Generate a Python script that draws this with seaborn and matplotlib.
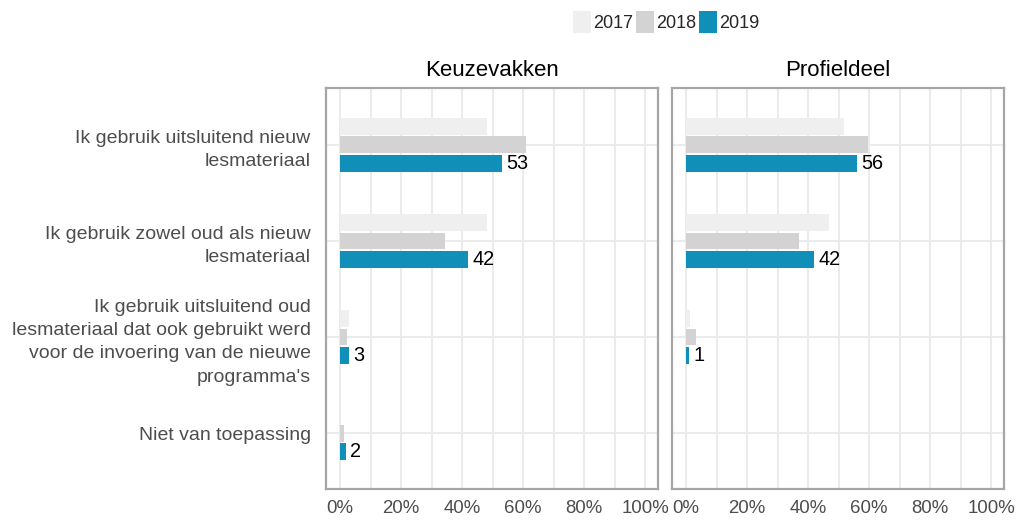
import matplotlib
matplotlib.use("Agg")
import matplotlib.pyplot as plt
import seaborn as sns
import pandas as pd
import numpy as np
from matplotlib.patches import Patch

sns.set_theme(style="white")
plt.rcParams['font.family'] = ['Liberation Sans', 'DejaVu Sans']

categories = [
    "Ik gebruik uitsluitend nieuw\nlesmateriaal",
    "Ik gebruik zowel oud als nieuw\nlesmateriaal",
    "Ik gebruik uitsluitend oud\nlesmateriaal dat ook gebruikt werd\nvoor de invoering van de nieuwe\nprogramma's",
    "Niet van toepassing",
]
years = ["2017", "2018", "2019"]
panels = ["Keuzevakken", "Profieldeel"]

keuze_2017 = [48, 48, 3, 0]
keuze_2018 = [61, 34.5, 2.2, 1.4]
keuze_2019 = [53, 42, 3, 2]

profiel_2017 = [51.7, 46.9, 1.3, 0]
profiel_2018 = [59.7, 37, 3.3, 0]
profiel_2019 = [56, 42, 1, 0]

colors = {"2017": "#efefef", "2018": "#d3d3d3", "2019": "#108fb9"}

panel_data = {
    "Keuzevakken": [keuze_2017, keuze_2018, keuze_2019],
    "Profieldeel": [profiel_2017, profiel_2018, profiel_2019],
}

fig = plt.figure(figsize=(10.18, 5.22), dpi=100)
W, H = 1018, 522
axes = []
for i, (panel, x0) in enumerate(zip(panels, [326, 672])):
    ax = fig.add_axes([x0 / W, 1 - 489 / H, 332 / W, (489 - 88) / H])
    axes.append(ax)
    rows = []
    for y, vals in zip(years, panel_data[panel]):
        for c, v in zip(categories, vals):
            rows.append({"cat": c, "year": y, "value": v})
    df = pd.DataFrame(rows)
    sns.barplot(data=df, x="value", y="cat", hue="year", order=categories,
                hue_order=years, palette=colors, width=0.58, gap=0.1,
                orient="h", ax=ax, legend=False, saturation=1, errorbar=None,
                edgecolor="none")
    vals19 = panel_data[panel][2]
    labels = [f"{v:g}" if v > 0 else "" for v in vals19]
    ax.bar_label(ax.containers[2], labels=labels, padding=3, fontsize=14.3,
                 color="black")
    ax.set_xlim(-4.6, 104.2)
    ax.set_ylim(3.58, -0.59)
    ax.set_xticks([0, 20, 40, 60, 80, 100])
    ax.set_xticklabels(["0%", "20%", "40%", "60%", "80%", "100%"])
    ax.set_xticks([10, 30, 50, 70, 90], minor=True)
    ax.grid(True, which="both", axis="x", color="#ebebeb", lw=1.5)
    ax.grid(True, which="major", axis="y", color="#ebebeb", lw=1.5)
    ax.set_axisbelow(True)
    ax.set_xlabel("")
    ax.set_ylabel("")
    ax.tick_params(axis="both", which="both", length=0, labelcolor="#4d4d4d")
    ax.tick_params(axis="x", labelsize=13.4, pad=8)
    ax.tick_params(axis="y", labelsize=14, pad=11)
    for sp in ax.spines.values():
        sp.set_visible(True)
        sp.set_color("#a6a6a6")
        sp.set_linewidth(1.6)
    ax.set_title(panel, fontsize=16, color="black", pad=9)
    if i == 1:
        ax.set_yticklabels([])
    else:
        for t in ax.get_yticklabels():
            t.set_multialignment("right")
            t.set_linespacing(1.48)

handles = [Patch(facecolor=colors[y], edgecolor="none", label=y) for y in years]
fig.legend(handles=handles, loc="upper center", bbox_to_anchor=(666 / W, 1.0 - 4 / H),
           ncol=3, frameon=False, fontsize=13, handlelength=1.0, handleheight=1.45,
           handletextpad=0.1, columnspacing=0.18, borderaxespad=0)

fig.savefig("out.png", dpi=100)
